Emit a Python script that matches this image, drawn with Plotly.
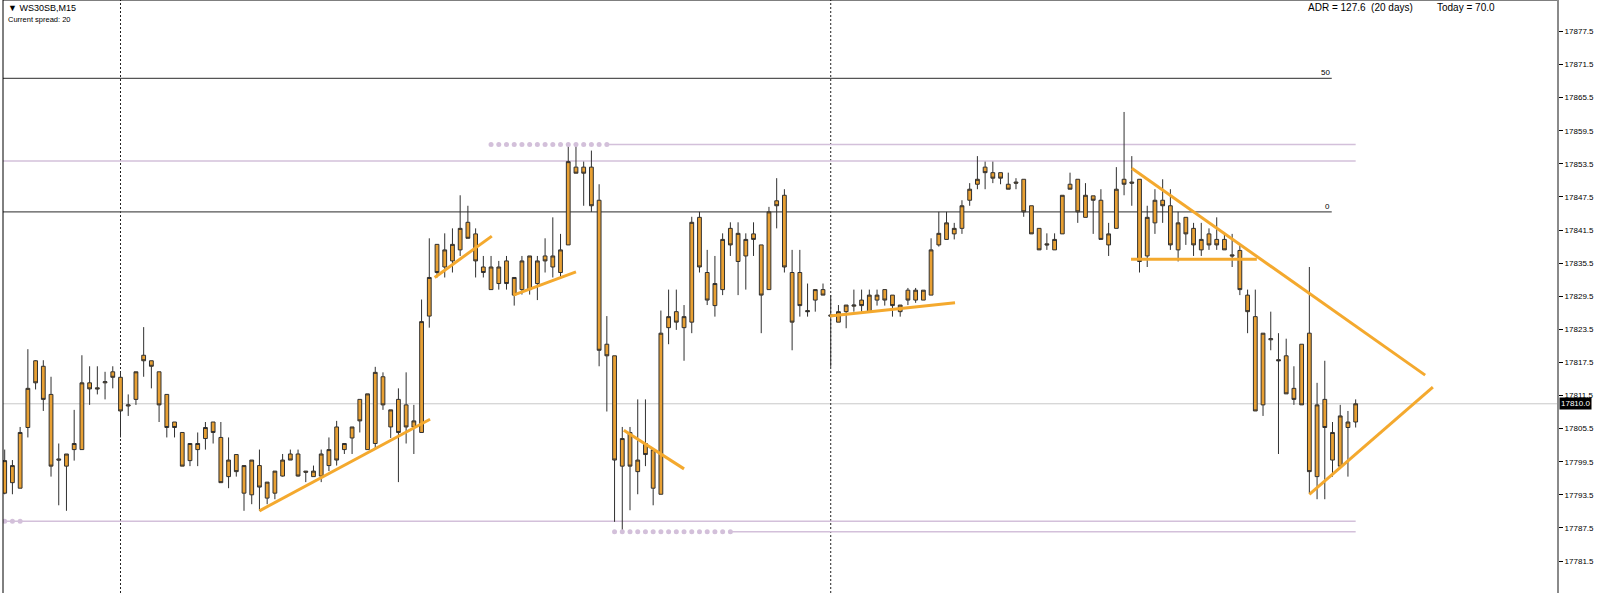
import plotly.graph_objects as go

# WS30SB M15 candles (bar index 0..175)
opens = [
    17793.8, 17795.7, 17794.7, 17805.7, 17817.8, 17816.8, 17811.7, 17800.0, 17798.7, 17801.7,
    17801.7, 17813.8, 17812.9, 17813.8, 17815.8, 17814.8, 17809.6, 17810.8, 17818.8, 17817.8,
    17815.8, 17811.7, 17806.7, 17804.8, 17799.7, 17801.7, 17803.7, 17806.7, 17803.9, 17796.8,
    17800.8, 17793.8, 17793.5, 17798.8, 17792.9, 17793.8, 17796.9, 17800.9, 17800.9, 17797.8,
    17796.8, 17796.9, 17798.8, 17805.8, 17801.7, 17803.8, 17810.8, 17801.7, 17802.8, 17814.9,
    17805.8, 17810.8, 17809.8, 17805.8, 17804.8, 17825.9, 17838.9, 17834.8, 17835.9, 17837.9,
    17842.9, 17840.8, 17834.8, 17830.7, 17831.8, 17835.9, 17829.7, 17830.7, 17830.7, 17831.8,
    17836.8, 17834.8, 17833.8, 17838.8, 17852.9, 17852.9, 17852.9, 17846.9, 17820.8, 17818.7,
    17798.7, 17804.8, 17797.7, 17802.8, 17794.7, 17793.6, 17823.8, 17826.7, 17823.8, 17824.8,
    17843.8, 17833.8, 17827.8, 17830.7, 17841.8, 17835.8, 17836.8, 17840.8, 17838.8, 17830.7,
    17846.8, 17847.8, 17833.8, 17833.8, 17826.9, 17828.8, 17830.7, 17826.1, 17824.8, 17826.7,
    17827.7, 17828.8, 17826.7, 17828.8, 17830.7, 17829.7, 17826.7, 17830.6, 17828.8, 17828.8,
    17829.7, 17838.8, 17839.8, 17840.8, 17841.8, 17846.9, 17849.8, 17852.9, 17851.9, 17851.9,
    17849.8, 17850.2, 17850.7, 17845.9, 17841.8, 17839.0, 17837.9, 17840.8, 17849.8, 17850.7,
    17843.8, 17847.7, 17846.9, 17838.8, 17841.8, 17850.7, 17850.2, 17850.7, 17836.8, 17842.8,
    17846.9, 17845.9, 17837.9, 17843.8, 17841.8, 17837.9, 17840.8, 17839.8, 17839.8, 17837.0,
    17837.8, 17829.7, 17825.8, 17809.8, 17821.6, 17818.0, 17818.7, 17812.8, 17820.8, 17822.8,
    17796.8, 17810.8, 17799.8, 17798.7, 17805.7, 17806.7,
]
highs = [
    17801.7, 17799.8, 17805.8, 17819.9, 17817.9, 17817.9, 17814.9, 17802.8, 17800.9, 17808.9,
    17818.8, 17816.8, 17816.8, 17815.8, 17816.8, 17815.8, 17811.7, 17815.8, 17823.9, 17817.8,
    17815.8, 17811.7, 17806.7, 17804.8, 17802.8, 17804.8, 17806.7, 17806.7, 17806.7, 17803.9,
    17800.8, 17798.8, 17799.8, 17801.7, 17795.8, 17797.8, 17800.9, 17801.7, 17801.7, 17797.8,
    17798.8, 17801.7, 17803.9, 17806.9, 17802.8, 17805.8, 17810.8, 17811.8, 17816.7, 17815.7,
    17808.9, 17812.8, 17815.7, 17809.8, 17828.9, 17840.0, 17838.9, 17840.9, 17841.8, 17847.8,
    17845.9, 17841.8, 17836.8, 17836.8, 17835.9, 17836.8, 17832.9, 17836.8, 17836.8, 17836.8,
    17840.0, 17843.8, 17840.8, 17856.9, 17856.9, 17853.9, 17855.9, 17849.8, 17825.9, 17818.7,
    17805.8, 17805.8, 17810.8, 17810.8, 17801.7, 17826.9, 17830.7, 17830.7, 17827.9, 17843.9,
    17844.8, 17837.9, 17836.8, 17840.9, 17842.9, 17842.9, 17840.9, 17842.9, 17838.8, 17845.7,
    17850.9, 17848.9, 17837.9, 17837.9, 17831.8, 17830.7, 17831.8, 17829.7, 17827.9, 17827.9,
    17830.7, 17830.7, 17830.7, 17830.7, 17830.7, 17829.7, 17827.9, 17831.0, 17831.0, 17830.6,
    17840.0, 17844.8, 17844.8, 17842.8, 17846.9, 17850.0, 17854.9, 17853.9, 17853.9, 17851.9,
    17851.9, 17850.9, 17850.7, 17845.9, 17841.8, 17840.9, 17840.9, 17847.8, 17851.9, 17850.7,
    17850.0, 17847.7, 17848.9, 17842.8, 17852.9, 17862.9, 17854.9, 17850.7, 17845.9, 17848.9,
    17850.7, 17848.9, 17844.8, 17843.8, 17842.8, 17842.8, 17841.8, 17843.8, 17840.8, 17840.8,
    17838.8, 17830.7, 17830.7, 17822.8, 17826.7, 17822.8, 17821.8, 17816.8, 17820.8, 17834.8,
    17813.8, 17817.8, 17806.7, 17809.8, 17808.7, 17810.8,
]
lows = [
    17793.6, 17793.6, 17794.7, 17803.9, 17812.6, 17808.7, 17796.8, 17791.6, 17790.6, 17799.7,
    17801.7, 17809.8, 17811.7, 17810.8, 17812.8, 17803.9, 17807.8, 17809.8, 17814.9, 17812.8,
    17806.7, 17803.9, 17803.9, 17798.7, 17798.7, 17798.7, 17801.7, 17802.8, 17795.7, 17794.7,
    17796.8, 17790.6, 17791.8, 17790.6, 17791.8, 17792.7, 17796.8, 17799.8, 17796.8, 17795.8,
    17796.8, 17795.8, 17797.8, 17798.8, 17800.9, 17800.9, 17804.8, 17801.7, 17801.7, 17808.9,
    17803.8, 17795.8, 17802.8, 17800.9, 17804.8, 17823.8, 17832.9, 17832.9, 17833.8, 17836.8,
    17840.0, 17832.9, 17832.9, 17830.7, 17830.7, 17830.7, 17827.8, 17829.8, 17829.8, 17828.8,
    17833.8, 17832.9, 17832.9, 17838.8, 17851.8, 17845.9, 17844.8, 17816.8, 17808.6, 17788.6,
    17786.5, 17790.7, 17793.6, 17798.7, 17791.6, 17793.6, 17820.8, 17823.4, 17817.8, 17822.8,
    17833.8, 17827.9, 17825.8, 17829.7, 17836.8, 17829.7, 17830.7, 17836.8, 17822.8, 17830.7,
    17841.8, 17833.8, 17819.7, 17825.8, 17825.8, 17826.7, 17829.7, 17816.7, 17824.8, 17823.7,
    17826.7, 17826.7, 17826.7, 17827.8, 17827.8, 17825.8, 17825.8, 17827.9, 17828.3, 17828.8,
    17829.7, 17838.5, 17839.8, 17839.8, 17840.8, 17845.9, 17848.9, 17848.9, 17850.0, 17849.8,
    17848.9, 17848.9, 17843.9, 17840.8, 17837.9, 17837.9, 17837.9, 17840.8, 17848.9, 17842.8,
    17843.8, 17840.8, 17839.8, 17836.8, 17841.8, 17847.8, 17845.9, 17833.8, 17834.8, 17840.8,
    17842.8, 17837.9, 17835.8, 17838.8, 17836.8, 17836.8, 17837.9, 17837.9, 17837.9, 17834.8,
    17829.7, 17822.8, 17808.7, 17807.8, 17819.7, 17800.9, 17811.8, 17809.8, 17809.8, 17793.8,
    17792.7, 17792.7, 17796.8, 17798.7, 17796.8, 17805.7,
]
closes = [
    17799.7, 17798.8, 17804.8, 17812.8, 17813.8, 17810.8, 17798.7, 17799.8, 17800.9, 17802.8,
    17813.8, 17812.7, 17812.7, 17814.0, 17814.8, 17808.7, 17809.8, 17815.8, 17817.8, 17816.8,
    17809.8, 17805.7, 17805.7, 17798.7, 17802.8, 17802.8, 17805.7, 17804.8, 17795.7, 17799.8,
    17797.7, 17798.8, 17799.8, 17794.9, 17795.8, 17797.8, 17799.8, 17799.8, 17796.9, 17797.6,
    17797.8, 17800.9, 17801.7, 17799.8, 17802.8, 17805.8, 17806.9, 17811.8, 17815.7, 17809.8,
    17808.9, 17804.8, 17805.8, 17806.9, 17824.9, 17832.9, 17833.8, 17837.9, 17838.9, 17841.8,
    17840.0, 17835.9, 17833.8, 17834.8, 17834.8, 17831.8, 17832.9, 17835.9, 17836.8, 17835.9,
    17835.9, 17836.8, 17837.9, 17853.9, 17851.8, 17851.8, 17845.9, 17819.7, 17818.7, 17799.8,
    17803.7, 17798.7, 17799.8, 17800.8, 17801.7, 17822.8, 17825.8, 17824.8, 17825.8, 17842.9,
    17834.8, 17828.8, 17831.8, 17839.8, 17838.8, 17840.9, 17839.8, 17839.8, 17829.7, 17844.8,
    17845.9, 17834.8, 17824.8, 17827.8, 17826.7, 17830.7, 17829.7, 17825.9, 17826.7, 17827.9,
    17827.9, 17827.8, 17829.7, 17829.7, 17828.8, 17827.8, 17827.9, 17828.8, 17830.6, 17830.6,
    17837.9, 17840.9, 17842.8, 17841.8, 17845.9, 17848.9, 17850.7, 17851.9, 17850.9, 17850.9,
    17848.9, 17850.0, 17844.8, 17840.8, 17837.9, 17838.8, 17839.8, 17847.8, 17848.9, 17844.8,
    17847.8, 17846.9, 17839.8, 17840.8, 17848.9, 17849.8, 17850.0, 17835.8, 17843.8, 17846.9,
    17845.9, 17838.8, 17842.8, 17840.8, 17838.8, 17839.8, 17838.8, 17838.8, 17837.9, 17836.8,
    17830.7, 17826.7, 17808.7, 17822.8, 17821.8, 17817.8, 17811.8, 17810.8, 17809.8, 17797.7,
    17809.8, 17805.7, 17804.8, 17807.8, 17806.7, 17810.0,
]
bars = list(range(len(closes)))

# price axis labels
tick_vals = [17781.5, 17787.5, 17793.5, 17799.5, 17805.5, 17811.5, 17817.5, 17823.5, 17829.5,
             17835.5, 17841.5, 17847.5, 17853.5, 17859.5, 17865.5, 17871.5, 17877.5]
tick_text = ["%.1f" % v for v in tick_vals]

current_price = 17810.0
fibo_levels = [("50", 17869.0), ("0", 17844.8)]   # label, price
sr_lines = [17854.0, 17788.7]                      # plain lavender lines
dots_high_bars = list(range(63, 79))
dots_high_price = 17857.0
dots_low_bars = list(range(79, 95))
dots_low_price = 17786.8
dots_left_bars = [0, 1, 2]
vlines = [15, 107]

# hand drawn trend lines: (bar0, price0, bar1, price1)
trendlines = [
    (33.0, 17790.6, 55.1, 17807.2),
    (55.7, 17832.9, 63.1, 17840.4),
    (65.9, 17829.7, 74.0, 17833.9),
    (80.2, 17805.2, 88.0, 17798.2),
    (106.9, 17825.9, 123.1, 17828.3),
    (146.0, 17852.7, 184.0, 17815.2),
    (169.0, 17793.6, 185.0, 17813.0),
    (145.9, 17836.2, 162.2, 17836.2),
]

CANDLE = "#E8A033"
WICK = "#303030"
ORANGE = "#F4A92E"
LAVENDER = "#D3C0DA"
FONT = "Liberation Sans, Arial, sans-serif"

last_bar = bars[-1]

fig = go.Figure()

fig.add_trace(go.Candlestick(
    x=bars, open=opens, high=highs, low=lows, close=closes,
    increasing=dict(fillcolor=CANDLE, line=dict(color=WICK, width=1)),
    decreasing=dict(fillcolor=CANDLE, line=dict(color=WICK, width=1)),
    whiskerwidth=0, showlegend=False, hoverinfo="skip",
))

# lavender dotted starts of the levels
for xs, p in [(dots_high_bars, dots_high_price), (dots_low_bars, dots_low_price),
              (dots_left_bars, sr_lines[1])]:
    fig.add_trace(go.Scatter(
        x=xs, y=[p] * len(xs), mode="markers",
        marker=dict(size=5, color=LAVENDER), showlegend=False, hoverinfo="skip",
    ))

for x0, y0, x1, y1 in trendlines:
    fig.add_trace(go.Scatter(
        x=[x0, x1], y=[y0, y1], mode="lines",
        line=dict(color=ORANGE, width=3), showlegend=False, hoverinfo="skip",
    ))

shapes = []
# current price line
shapes.append(dict(type="line", xref="paper", yref="y", x0=0, x1=1,
                   y0=current_price, y1=current_price,
                   line=dict(color="#C8C8C8", width=1), layer="below"))
for p in sr_lines:
    shapes.append(dict(type="line", xref="x", yref="y", x0=-1, x1=last_bar,
                       y0=p, y1=p, line=dict(color=LAVENDER, width=1.5), layer="below"))
shapes.append(dict(type="line", xref="x", yref="y", x0=dots_high_bars[-1], x1=last_bar,
                   y0=dots_high_price, y1=dots_high_price,
                   line=dict(color=LAVENDER, width=1.5), layer="below"))
shapes.append(dict(type="line", xref="x", yref="y", x0=dots_low_bars[-1], x1=last_bar,
                   y0=dots_low_price, y1=dots_low_price,
                   line=dict(color=LAVENDER, width=1.5), layer="below"))
for label, p in fibo_levels:
    shapes.append(dict(type="line", xref="x", yref="y", x0=-1, x1=171.9,
                       y0=p, y1=p, line=dict(color="#555555", width=1.3), layer="below"))
for b in vlines:
    shapes.append(dict(type="line", xref="x", yref="paper", x0=b, x1=b, y0=0, y1=1,
                       line=dict(color="#222222", width=1, dash="2px,2px"), layer="below"))
# chart frame (left and top)
shapes.append(dict(type="line", xref="paper", yref="paper", x0=0, x1=0, y0=0, y1=1,
                   line=dict(color="#000000", width=1)))
shapes.append(dict(type="line", xref="paper", yref="paper", x0=0, x1=1, y0=1, y1=1,
                   line=dict(color="#000000", width=1)))

annotations = [
    dict(xref="paper", yref="paper", x=0, y=1, xshift=3, yshift=-1, xanchor="left",
         yanchor="top", showarrow=False, text="▼ WS30SB,M15",
         font=dict(family=FONT, size=9, color="#000")),
    dict(xref="paper", yref="paper", x=0, y=1, xshift=3, yshift=-13, xanchor="left",
         yanchor="top", showarrow=False, text="Current spread: 20",
         font=dict(family=FONT, size=7.5, color="#000")),
    dict(xref="paper", yref="paper", x=0, y=1, xshift=1303, yshift=0, xanchor="left",
         yanchor="top", showarrow=False, text="ADR = 127.6  (20 days)",
         font=dict(family=FONT, size=10, color="#000")),
    dict(xref="paper", yref="paper", x=0, y=1, xshift=1432, yshift=0, xanchor="left",
         yanchor="top", showarrow=False, text="Today = 70.0",
         font=dict(family=FONT, size=10, color="#000")),
    dict(xref="paper", yref="y", x=1, y=current_price, xshift=2, xanchor="left",
         yanchor="middle", showarrow=False, text="%.1f" % current_price,
         bgcolor="#000000", borderpad=1, font=dict(family=FONT, size=8, color="#FFFFFF")),
]
for label, p in fibo_levels:
    annotations.append(dict(xref="x", yref="y", x=171.9, y=p, xanchor="right",
                            yanchor="bottom", showarrow=False, text=label, yshift=-1,
                            font=dict(family=FONT, size=8, color="#000")))

fig.update_layout(
    width=1599, height=593,
    margin=dict(l=3, r=42, t=0, b=0),
    paper_bgcolor="white", plot_bgcolor="white",
    shapes=shapes, annotations=annotations,
    xaxis=dict(range=[-0.22, 201.08], visible=False, rangeslider=dict(visible=False),
               fixedrange=True),
    yaxis=dict(range=[17775.7, 17883.2], side="right", showgrid=False, zeroline=False,
               showline=True, linecolor="#8A8A8A", linewidth=2,
               tickvals=tick_vals, ticktext=tick_text, ticks="outside", ticklen=4,
               tickcolor="#000", tickfont=dict(family=FONT, size=8, color="#000"),
               fixedrange=True),
    font=dict(family=FONT),
)

# the page's default body margin would shift the chart by 8px
fig.write_html("out.html", config={"displayModeBar": False},
               post_script="document.body.style.margin='0';document.body.style.padding='0';")
